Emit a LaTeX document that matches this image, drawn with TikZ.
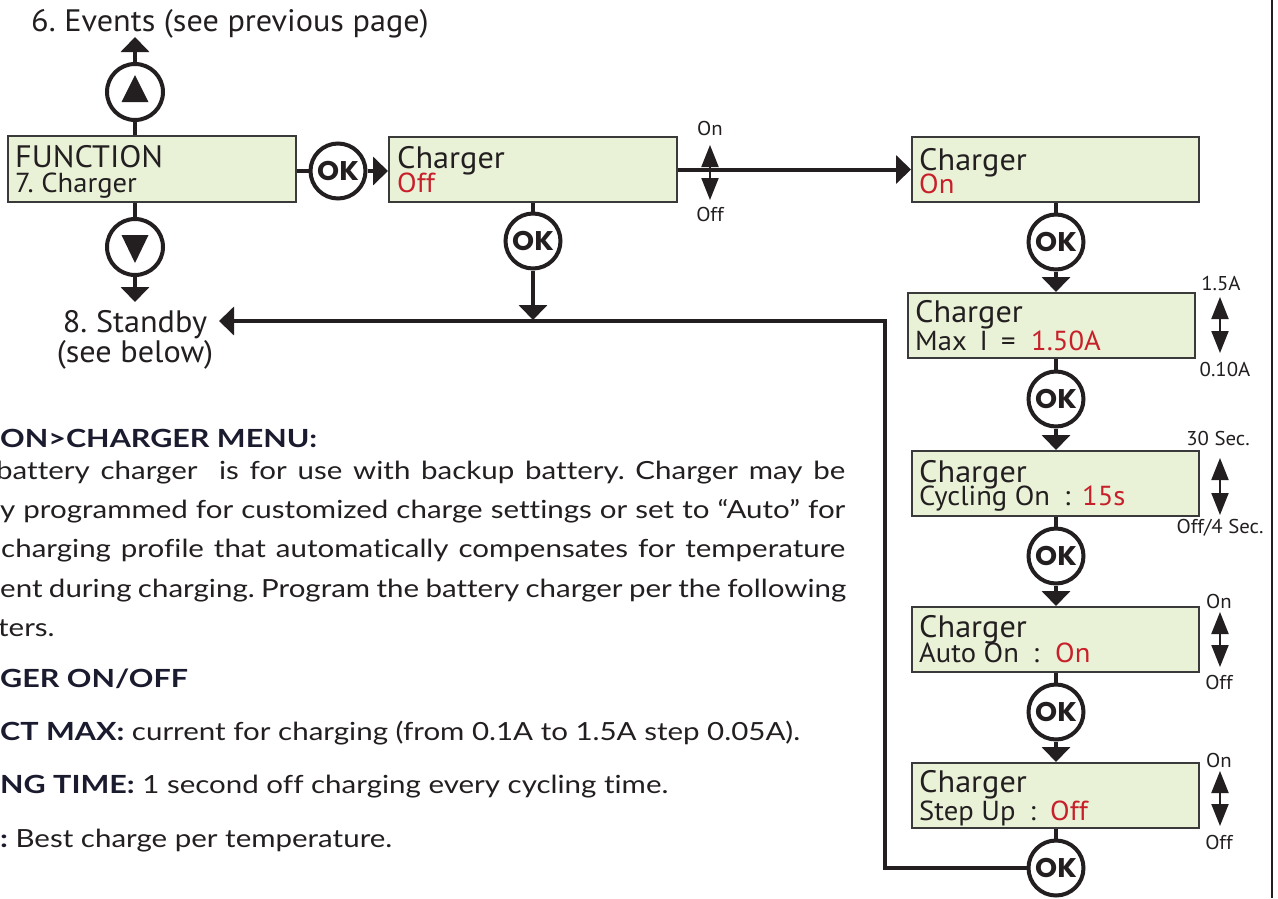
\documentclass[tikz,border=0pt]{standalone}
\usepackage{fontspec}
\usetikzlibrary{arrows.meta}
\setmainfont{PT Sans}[FakeStretch=1.04]
\newfontfamily\okfont{Poppins}[FakeStretch=1.04]
\newfontfamily\bodyfont{Lato}[FakeStretch=1.18, Ligatures=NoCommon, BoldFeatures={FakeStretch=1.22}]
\definecolor{ink}{HTML}{231F20}
\definecolor{lcd}{HTML}{E9F2D7}
\definecolor{lcdline}{HTML}{3A3A3A}
\definecolor{val}{HTML}{C8202A}
\definecolor{headc}{HTML}{1B1B2F}
\tikzset{
  lcdbox/.style={draw=lcdline, fill=lcd, line width=2pt, minimum width=287pt, minimum height=65pt, inner sep=0pt},
  lcdtxt/.style={anchor=base west, inner sep=0pt, text=ink, font=\fontsize{31}{31}\selectfont},
  lcdtxtb/.style={lcdtxt, font=\fontsize{27.5}{27.5}\selectfont},
  okbtn/.style={circle, draw=ink, line width=4pt, fill=white, minimum size=55pt, inner sep=0pt, text=ink, font=\okfont\bfseries\fontsize{27}{27}\selectfont},
  navbtn/.style={circle, draw=ink, line width=4pt, fill=white, minimum size=56pt, inner sep=0pt},
  wire/.style={draw=ink, line width=4pt},
  flow/.style={wire, -{Triangle[width=28pt,length=15pt]}},
  toggle/.style={draw=ink, line width=2pt, {Triangle[width=17pt,length=22pt]}-{Triangle[width=17pt,length=22pt]}},
  small/.style={inner sep=0pt, text=ink, font=\fontsize{20}{20}\selectfont},
  big/.style={anchor=base, inner sep=0pt, text=ink, font=\fontsize{31}{31}\selectfont},
  body/.style={anchor=base west, inner sep=0pt, text=ink, font=\bodyfont\fontsize{25}{25}\selectfont},
  bodyhead/.style={body, text=headc, font=\bodyfont\bfseries\fontsize{25}{25}\selectfont}
}
\begin{document}
\frenchspacing
\begin{tikzpicture}[x=1pt, y=-1pt]
\useasboundingbox (0,0) rectangle (1278,898);
\clip (0,0) rectangle (1278,898);
\fill[white] (0,0) rectangle (1278,898);

% page border
\coordinate (pbT) at (1272,0);
\coordinate (pbB) at (1272,898);
\draw[ink, line width=2pt] (pbT) -- (pbB);

% LCD boxes
\node[lcdbox, minimum width=288pt, minimum height=66pt] (fn) at (152,169) {};
\node[lcdbox, minimum width=288pt] (off) at (533,169.5) {};
\node[lcdbox] (on) at (1055.5,169.5) {};
\node[lcdbox] (maxi) at (1051.5,325.5) {};
\node[lcdbox] (cyc) at (1055.5,483.5) {};
\node[lcdbox] (auto) at (1055.5,639.5) {};
\node[lcdbox] (step) at (1055.5,795.5) {};

% box texts
\node[lcdtxt] (fnA) at (15,167) {FUNCTION};
\node[lcdtxtb] (fnB) at (15,192) {7. Charger};
\node[lcdtxt] (offA) at (397,168) {Charger};
\node[lcdtxtb, text=val] (offB) at (397,192) {Off};
\node[lcdtxt] (onA) at (919,170) {Charger};
\node[lcdtxtb, text=val] (onB) at (919,193) {On};
\node[lcdtxt] (maxA) at (915,322) {Charger};
\node[lcdtxtb] (maxB) at (915,350) {\makebox[116pt][l]{Max\hspace{13pt}I\hspace{13pt}=}\textcolor{val}{1.50A}};
\node[lcdtxt] (cycA) at (919,482) {Charger};
\node[lcdtxtb] (cycB) at (919,505) {\makebox[163pt][l]{Cycling On\hspace{14pt}:}\textcolor{val}{15s}};
\node[lcdtxt] (autA) at (919,637) {Charger};
\node[lcdtxtb] (autB) at (919,662) {\makebox[136pt][l]{Auto On\hspace{14pt}:}\textcolor{val}{On}};
\node[lcdtxt] (stpA) at (919,792) {Charger};
\node[lcdtxtb] (stpB) at (919,820) {\makebox[131pt][l]{Step Up\hspace{14pt}:}\textcolor{val}{Off}};

% buttons
\node[navbtn] (up) at (135,92) {};
\node[navbtn] (dn) at (135,247) {};
\fill[ink] (up.center) ++(0,-17) -- ++(13.5,27) -- ++(-27,0) -- cycle;
\fill[ink] (dn.center) ++(0,16) -- ++(13.5,-28) -- ++(-27,0) -- cycle;
\node[okbtn] (ok0) at (338,171) {OK};
\node[okbtn] (ok1) at (533,241) {OK};
\node[okbtn] (okA) at (1056,242) {OK};
\node[okbtn] (okB) at (1056,399) {OK};
\node[okbtn] (okC) at (1056,556) {OK};
\node[okbtn] (okD) at (1056,712) {OK};
\node[okbtn] (okE) at (1056,868) {OK};

% outside labels
\node[big] (events) at (230,31) {6. Events (see previous page)};
\node[big] (stby) at (135,332) {8. Standby};
\node[big] (stby2) at (135,362) {(see below)};

% connector ends
\coordinate (evtip) at (135,37);
\coordinate (sbtip) at (135,302);
\coordinate (offtip) at (533,320);
\coordinate (rc1) at (885,868);
\coordinate (rc2) at (885,321);
\coordinate (sbin) at (219,321);

% connectors
\draw[wire] (fn.north -| up) -- (up.south);
\draw[flow] (up.north) -- (evtip);
\draw[wire] (fn.south -| dn) -- (dn.north);
\draw[flow] (dn.south) -- (sbtip);
\draw[wire] (fn.east |- ok0) -- (ok0.west);
\draw[flow] (ok0.east) -- (ok0.east -| off.west);
\draw[flow] (off.east) -- (on.west);
\draw[wire] (off.south -| ok1) -- (ok1.north);
\draw[flow] (ok1.south) -- (offtip);
\draw[wire] (on.south -| okA) -- (okA.north);
\draw[flow] (okA.south) -- (okA.south |- maxi.north);
\draw[wire] (maxi.south -| okB) -- (okB.north);
\draw[flow] (okB.south) -- (okB.south |- cyc.north);
\draw[wire] (cyc.south -| okC) -- (okC.north);
\draw[flow] (okC.south) -- (okC.south |- auto.north);
\draw[wire] (auto.south -| okD) -- (okD.north);
\draw[flow] (okD.south) -- (okD.south |- step.north);
\draw[wire] (step.south -| okE) -- (okE.north);
\draw[flow] (okE.west) -- (rc1) -- (rc2) -- (sbin);

% toggles
\node[small] (t0on) at (710,128) {On};
\node[small] (t0off) at (710,214) {Off};
\coordinate (t0a) at (710,145);
\coordinate (t0b) at (710,200);
\draw[toggle] (t0a) -- (t0b);

\node[small] (t1on) at (1221,283) {1.5A};
\node[small] (t1off) at (1225,369) {0.10A};
\coordinate (t1a) at (1220,297);
\coordinate (t1b) at (1220,353);
\draw[toggle] (t1a) -- (t1b);

\node[small] (t2on) at (1218,438) {30 Sec.};
\node[small] (t2off) at (1220,528) {Off/4 Sec.};
\coordinate (t2a) at (1220,458);
\coordinate (t2b) at (1220,515);
\draw[toggle] (t2a) -- (t2b);

\node[small] (t3on) at (1219,601) {On};
\node[small] (t3off) at (1219,682) {Off};
\coordinate (t3a) at (1220,612);
\coordinate (t3b) at (1220,667);
\draw[toggle] (t3a) -- (t3b);

\node[small] (t4on) at (1219,760) {On};
\node[small] (t4off) at (1219,842) {Off};
\coordinate (t4a) at (1220,771);
\coordinate (t4b) at (1220,826);
\draw[toggle] (t4a) -- (t4b);

% body text
\node[bodyhead] (h1) at (0,447) {ON>CHARGER MENU:};
\node[body] (l1) at (-4,479) {\makebox[849pt][s]{battery charger\ \ is for use with backup battery. Charger may be}};
\node[body] (l2) at (0,518) {\makebox[845pt][s]{y programmed for customized charge settings or set to “Auto” for}};
\node[body] (l3) at (1,557) {\makebox[844pt][s]{charging profile that automatically compensates for temperature}};
\node[body] (l4) at (0,597) {\makebox[846pt][s]{ent during charging. Program the battery charger per the following}};
\node[body] (l5) at (-2,636) {ters.};
\node[bodyhead] (h2) at (0,687) {GER ON/OFF};
\node[body] (l6) at (0,740) {{\bfseries\color{headc}CT MAX:} current for charging (from 0.1A to 1.5A step 0.05A).};
\node[body] (l7) at (0,793) {{\bfseries\color{headc}NG TIME:} 1 second off charging every cycling time.};
\node[body] (l8) at (0,847) {{\bfseries\color{headc}:} Best charge per temperature.};
\end{tikzpicture}
\end{document}
